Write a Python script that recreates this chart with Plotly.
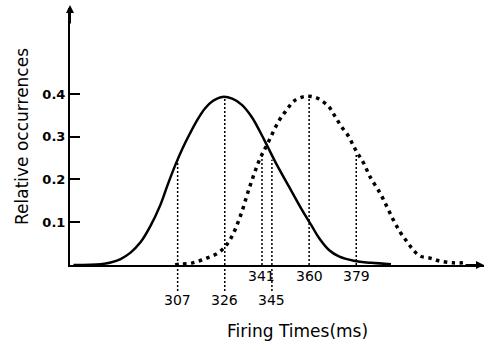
import plotly.graph_objects as go

# ---- data ----
solid_x = [265, 276, 280, 284, 288, 292, 296, 300, 303, 306, 309, 312, 315, 318, 321, 325,
           329, 333, 337, 340, 343, 347, 352, 357, 361, 364, 368, 372, 378, 385, 393]
solid_y = [0.0, 0.002, 0.006, 0.014, 0.029, 0.053, 0.091, 0.140, 0.188, 0.233, 0.273, 0.308,
           0.340, 0.366, 0.383, 0.393, 0.389, 0.374, 0.345, 0.314, 0.280, 0.234, 0.182, 0.130,
           0.092, 0.063, 0.035, 0.020, 0.010, 0.005, 0.002]

dotted_x = [306, 308, 313, 318.7, 324, 328, 332, 336, 340, 343, 348, 351, 354, 358, 361, 364,
            368, 370.5, 373, 376, 378, 380, 382, 384.6, 388.6, 391.4, 394, 396.7, 399.5, 402,
            404.7, 408.8, 412.8, 418, 422]
dotted_y = [0.0, 0.002, 0.005, 0.016, 0.031, 0.058, 0.110, 0.182, 0.246, 0.281, 0.339, 0.363,
            0.384, 0.394, 0.394, 0.388, 0.370, 0.347, 0.324, 0.300, 0.277, 0.257, 0.238, 0.206,
            0.168, 0.136, 0.105, 0.077, 0.054, 0.035, 0.021, 0.016, 0.009, 0.005, 0.005]

mark_x = [307, 326, 341, 345, 360, 379]
mark_top = [0.246, 0.393, 0.256, 0.246, 0.394, 0.260]
mark_labels = ["307", "326", "341", "345", "360", "379"]
mark_row = [2, 2, 1, 2, 1, 1]   # label row below the axis

y_ticks = [0.1, 0.2, 0.3, 0.4]
y_ticktext = ["0.1", "0.2", "0.3", "0.4"]

x_title = "Firing Times(ms)"
y_title = "Relative occurrences"

# ---- layout constants ----
W, H = 487, 343
L, R, T, B = 70, 3, 8, 78
PW, PH = W - L - R, H - T - B
X_RANGE = [263.6, 430.5]
Y_RANGE = [0, 0.601]
ROW_PX = {1: 276, 2: 300}       # pixel centres of the two label rows
EXT_PX = 292                    # lower end of the extended guide lines

fig = go.Figure()

GUIDE = dict(color="black", width=1.5, dash="2px,2px")

# vertical dotted guide lines (above the axis)
for xv, top in zip(mark_x, mark_top):
    fig.add_trace(go.Scatter(
        x=[xv, xv], y=[0, top], mode="lines", line=GUIDE,
        hoverinfo="skip", showlegend=False))

shapes = []
# extensions below the axis for the lower label row
for xv, row in zip(mark_x, mark_row):
    if row == 2:
        shapes.append(dict(type="line", xref="x", yref="paper", x0=xv, x1=xv,
                           y0=0, y1=(265 - EXT_PX) / PH, line=GUIDE))

fig.add_trace(go.Scatter(
    x=dotted_x, y=dotted_y, mode="lines", line_shape="spline",
    line=dict(color="black", width=3.5, dash="3.5px,4.5px"),
    showlegend=False))

fig.add_trace(go.Scatter(
    x=solid_x, y=solid_y, mode="lines", line_shape="spline",
    line=dict(color="black", width=2.5),
    showlegend=False))

annotations = []
for xv, lab, row in zip(mark_x, mark_labels, mark_row):
    annotations.append(dict(
        x=xv, y=(265 - ROW_PX[row]) / PH, xref="x", yref="paper", text=lab, showarrow=False,
        font=dict(family="DejaVu Sans", size=14, color="black"),
        xanchor="center", yanchor="middle"))

annotations.append(dict(
    x=(297 - L) / PW, y=(265 - 331) / PH, xref="paper", yref="paper",
    text=x_title, showarrow=False, xanchor="center", yanchor="middle",
    font=dict(family="DejaVu Sans", size=17, color="black")))
annotations.append(dict(
    x=(22 - L) / PW, y=(265 - 137) / PH, xref="paper", yref="paper",
    text=y_title, showarrow=False, xanchor="center", yanchor="middle", textangle=-90,
    font=dict(family="DejaVu Sans", size=17, color="black")))

# axis arrows
annotations.append(dict(
    x=0, y=1, xref="paper", yref="paper", ax=0, ay=20, axref="pixel", ayref="pixel",
    text="", showarrow=True, arrowhead=2, arrowsize=0.8, arrowwidth=2, arrowcolor="black",
    yshift=3))
annotations.append(dict(
    x=1, y=0, xref="paper", yref="paper", ax=-20, ay=0, axref="pixel", ayref="pixel",
    text="", showarrow=True, arrowhead=2, arrowsize=0.8, arrowwidth=2, arrowcolor="black"))

fig.update_layout(
    width=W, height=H,
    margin=dict(l=L, r=R, t=T, b=B, autoexpand=False),
    paper_bgcolor="white", plot_bgcolor="white",
    annotations=annotations, shapes=shapes,
    xaxis=dict(range=X_RANGE, showgrid=False, zeroline=False, showticklabels=False,
               ticks="", showline=True, linecolor="black", linewidth=2, fixedrange=True),
    yaxis=dict(range=Y_RANGE, showgrid=False, zeroline=False, tickvals=y_ticks,
               ticktext=y_ticktext, ticks="inside", ticklen=10, tickwidth=2,
               tickcolor="black", showline=True, linecolor="black", linewidth=2,
               tickfont=dict(family="DejaVu Sans", size=13, color="black", weight="bold"),
               fixedrange=True),
)

fig.write_html("out.html", config={"displayModeBar": False},
               post_script="document.body.style.margin='0px';document.body.style.overflow='hidden';")
